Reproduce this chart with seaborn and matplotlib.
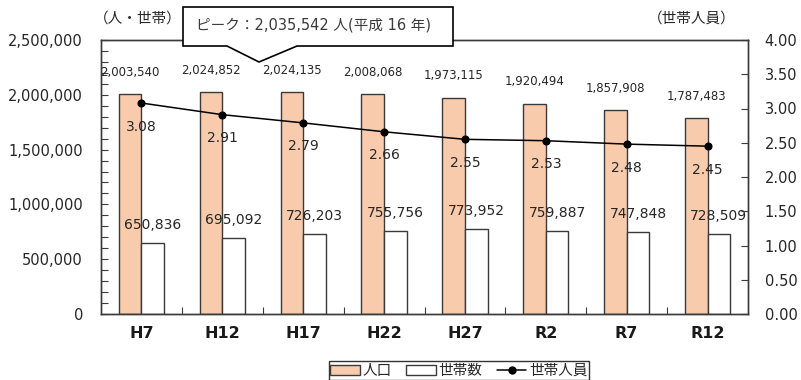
import numpy as np
import pandas as pd
import seaborn as sns
import matplotlib
matplotlib.use("Agg")
import matplotlib.pyplot as plt
from matplotlib.patches import Patch, Polygon
from matplotlib.lines import Line2D
from matplotlib.ticker import FuncFormatter, MultipleLocator, FixedLocator

years = ["H7", "H12", "H17", "H22", "H27", "R2", "R7", "R12"]
population = [2003540, 2024852, 2024135, 2008068, 1973115, 1920494, 1857908, 1787483]
households = [650836, 695092, 726203, 755756, 773952, 759887, 747848, 728509]
per_household = [3.08, 2.91, 2.79, 2.66, 2.55, 2.53, 2.48, 2.45]
series_names = ["人口", "世帯数", "世帯人員"]
peak_text = "ピーク：2,035,542 人(平成 16 年)"
left_unit = "（人・世帯）"
right_unit = "（世帯人員）"

sns.set_theme(style="white")
plt.rcParams['font.family'] = ['DejaVu Sans', 'Noto Sans CJK JP']

PEACH = "#F8CBAD"
EDGE = "#3a3a3a"
TXT = "#262626"

df = pd.DataFrame({
    "year": years * 2,
    "value": population + households,
    "series": [series_names[0]] * len(years) + [series_names[1]] * len(years),
})

fig = plt.figure(figsize=(8.01, 3.80), dpi=100)
L, R, T, B = 101, 748, 40, 314
ax = fig.add_axes([L / 801, 1 - B / 380, (R - L) / 801, (B - T) / 380])

sns.barplot(data=df, x="year", y="value", hue="series", order=years,
            hue_order=series_names[:2],
            palette={series_names[0]: PEACH, series_names[1]: "white"},
            saturation=1, width=0.56, gap=0, edgecolor=EDGE, linewidth=1.0,
            legend=False, ax=ax, zorder=2)

ax.set_xlim(-0.5, len(years) - 0.5)
ax.set_ylim(0, 2500000)
ax.set_xlabel("")
ax.set_ylabel("")
ax.yaxis.set_major_locator(MultipleLocator(500000))
ax.yaxis.set_minor_locator(MultipleLocator(100000))
ax.yaxis.set_major_formatter(FuncFormatter(lambda v, p: f"{int(v):,}"))
ax.tick_params(axis="y", which="both", direction="in", length=5, width=0.8,
               color=EDGE, left=True, labelsize=10.5, labelcolor=TXT, pad=13)
ax.xaxis.set_minor_locator(FixedLocator(np.arange(0.5, len(years) - 0.5, 1.0)))
ax.tick_params(axis="x", which="major", length=0, pad=9, labelsize=11.5)
ax.tick_params(axis="x", which="minor", direction="in", length=5, width=0.8,
               color=EDGE, bottom=True)
for lab in ax.get_xticklabels():
    lab.set_fontweight("bold")
    lab.set_color("#1a1a1a")
for s in ax.spines.values():
    s.set_color(EDGE)
    s.set_linewidth(1.0)

# twin axis for persons per household
ax2 = ax.twinx()
sns.pointplot(x=years, y=per_household, order=years, ax=ax2, color="black",
              markers="o", markersize=5, linewidth=1.1, zorder=4)
ax2.set_xlim(-0.5, len(years) - 0.5)
ax2.set_ylim(0, 4.0)
ax2.yaxis.set_major_locator(MultipleLocator(0.5))
ax2.yaxis.set_major_formatter(FuncFormatter(lambda v, p: f"{v:.2f}"))
ax2.tick_params(axis="y", which="both", direction="in", length=5, width=0.8,
                color=EDGE, right=True, labelsize=10.5, labelcolor=TXT, pad=12)
ax2.set_ylabel("")
for s in ax2.spines.values():
    s.set_color(EDGE)
    s.set_linewidth(1.0)

off = 0.14
for i in range(len(years)):
    ax.annotate(f"{population[i]:,}", (i - off, population[i]),
                xytext=(0, 11), textcoords="offset points",
                ha="center", va="bottom", fontsize=8.5, color=TXT, zorder=6)
    ax.annotate(f"{households[i]:,}", (i + off, households[i]),
                xytext=(0, 8), textcoords="offset points",
                ha="center", va="bottom", fontsize=10, color=TXT, zorder=6)
    ax2.annotate(f"{per_household[i]:.2f}", (i, per_household[i]),
                 xytext=(0, -17), textcoords="offset points",
                 ha="center", va="center", fontsize=10, color=TXT, zorder=6)

# unit labels
fig.text(138 / 801, 1 - 18 / 380, left_unit, ha="center", va="center",
         fontsize=10.5, color=TXT)
fig.text(692 / 801, 1 - 18 / 380, right_unit, ha="center", va="center",
         fontsize=10.5, color=TXT)

# callout
pts = [(183, 7), (453, 7), (453, 46), (297, 46), (259, 62), (227, 46), (183, 46)]
poly = Polygon([(x / 801, 1 - y / 380) for x, y in pts], closed=True,
               transform=fig.transFigure, facecolor="white", edgecolor="black",
               linewidth=1.2, zorder=10)
fig.add_artist(poly)
fig.text(313 / 801, 1 - 25 / 380, peak_text, ha="center", va="center",
         fontsize=10.5, color="#3a3a3a", zorder=11)

# legend
handles = [
    Patch(facecolor=PEACH, edgecolor=EDGE, linewidth=1.0, label=series_names[0]),
    Patch(facecolor="white", edgecolor=EDGE, linewidth=1.0, label=series_names[1]),
    Line2D([0], [0], color="black", marker="o", markersize=5, linewidth=1.1,
           label=series_names[2]),
]
leg = fig.legend(handles=handles, loc="upper center", ncol=3,
                 bbox_to_anchor=(459 / 801, 1 - 361 / 380), frameon=True,
                 fancybox=False, edgecolor="black", fontsize=10.5,
                 handlelength=2.0, handleheight=0.7, handletextpad=0.2,
                 columnspacing=1.0, borderpad=0.12, borderaxespad=0)
leg.get_frame().set_linewidth(1.0)

fig.savefig("out.png", dpi=100)
